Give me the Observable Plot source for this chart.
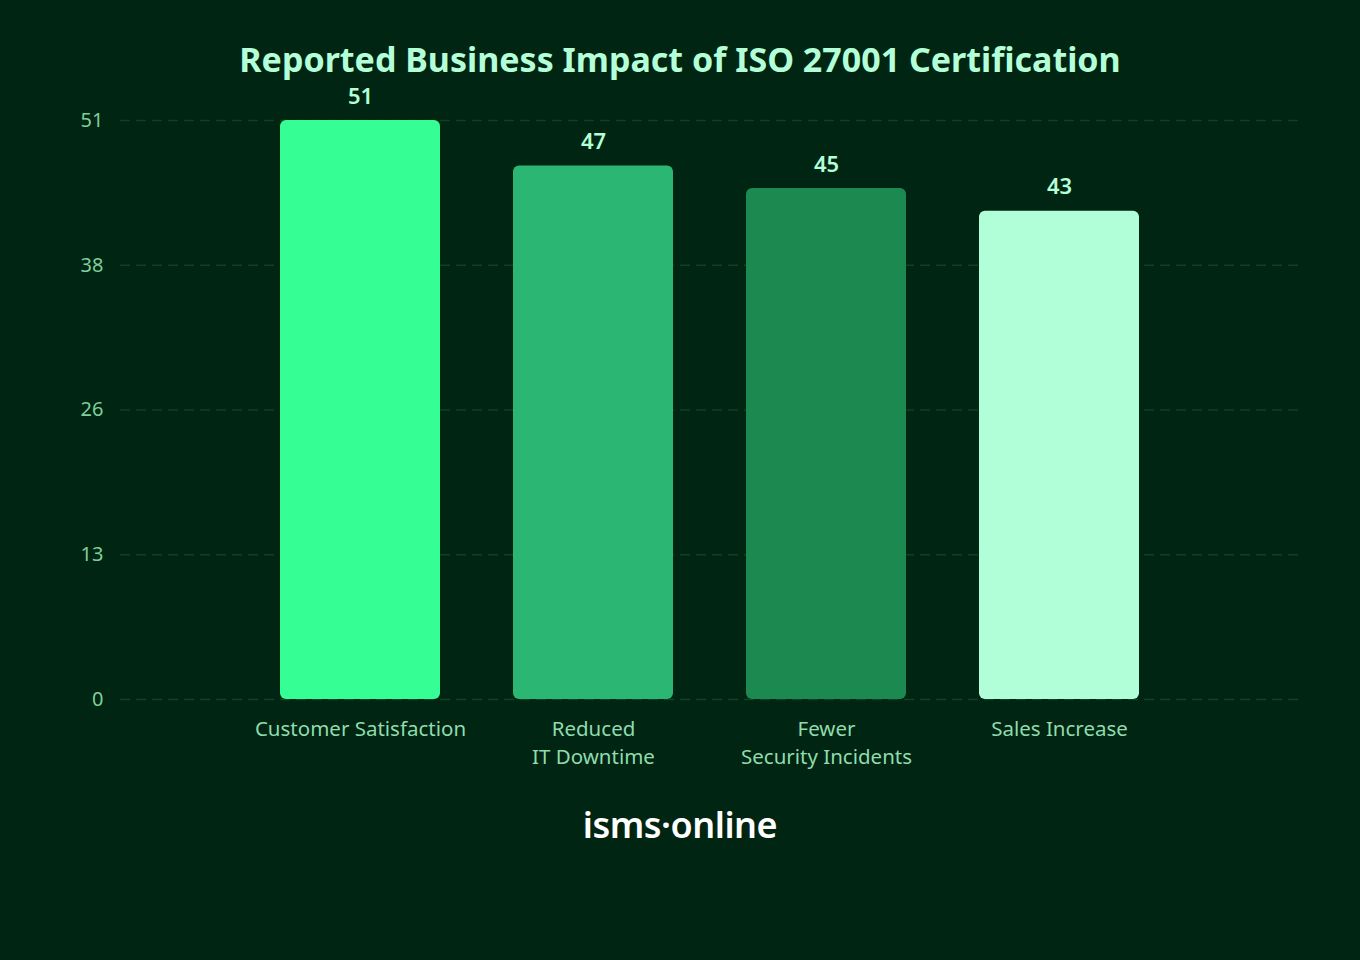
<!DOCTYPE html>
<html>
<head>
<meta charset="utf-8">
<script src="https://cdn.jsdelivr.net/npm/d3@7"></script>
<script src="https://cdn.jsdelivr.net/npm/@observablehq/plot@0.6"></script>
<style>
  html, body { margin: 0; padding: 0; background: #002512; }
  body { width: 1360px; height: 960px; position: relative; overflow: hidden; font-family: "Noto Sans", "Open Sans", sans-serif; }
  #title { position: absolute; left: 0; top: 36px; width: 1360px; text-align: center; color: #b3ffd8; font-weight: 700; font-size: 34px; line-height: 46px; }
  #chart { position: absolute; left: 0; top: 80px; }
  #logo { position: absolute; left: 0; top: 800px; width: 1360px; text-align: center; color: #ffffff; font-weight: 600; font-size: 36px; line-height: 50px; letter-spacing: -0.5px; }
</style>
</head>
<body>
<div id="title">Reported Business Impact of ISO 27001 Certification</div>
<div id="chart"></div>
<div id="logo">isms·online</div>
<script>
const categories = ["Customer Satisfaction", "Reduced\nIT Downtime", "Fewer\nSecurity Incidents", "Sales Increase"];
const values = [51, 47, 45, 43];
const barColors = ["#35ff94", "#2bb673", "#1c8a50", "#b0ffd8"];
const yTickValues = [0, 12.75, 25.5, 38.25, 51];
const yTickLabels = ["0", "13", "26", "38", "51"];

const data = categories.map((c, i) => ({category: c, value: values[i], color: barColors[i]}));

const chart = Plot.plot({
  width: 1360,
  height: 720,
  marginLeft: 120,
  marginRight: 61,
  marginTop: 40,
  marginBottom: 101,
  style: {background: "transparent", fontFamily: "'Noto Sans', 'Open Sans', sans-serif"},
  x: {domain: categories, paddingInner: 0.315, paddingOuter: 0.68, label: null},
  y: {domain: [0, 51], label: null},
  marks: [
    Plot.ruleY(yTickValues, {stroke: "#0d4222", strokeWidth: 1.5, strokeDasharray: "10,6"}),
    Plot.barY(data, {x: "category", y: "value", fill: "color", rx: 6}),
    Plot.text(data, {x: "category", y: "value", text: d => String(d.value), dy: -24, fill: "#b3ffd8", fontSize: 22, fontWeight: 600}),
    Plot.axisY({ticks: yTickValues, tickFormat: (d) => yTickLabels[yTickValues.indexOf(d)], tickSize: 0, tickPadding: 17, fontSize: 20, fill: "#7ecf9c", label: null}),
    Plot.axisX({tickSize: 0, tickPadding: 16, fontSize: 20.5, fill: "#8fdcae", lineHeight: 1.38, label: null})
  ]
});
document.getElementById("chart").appendChild(chart);
</script>
</body>
</html>
